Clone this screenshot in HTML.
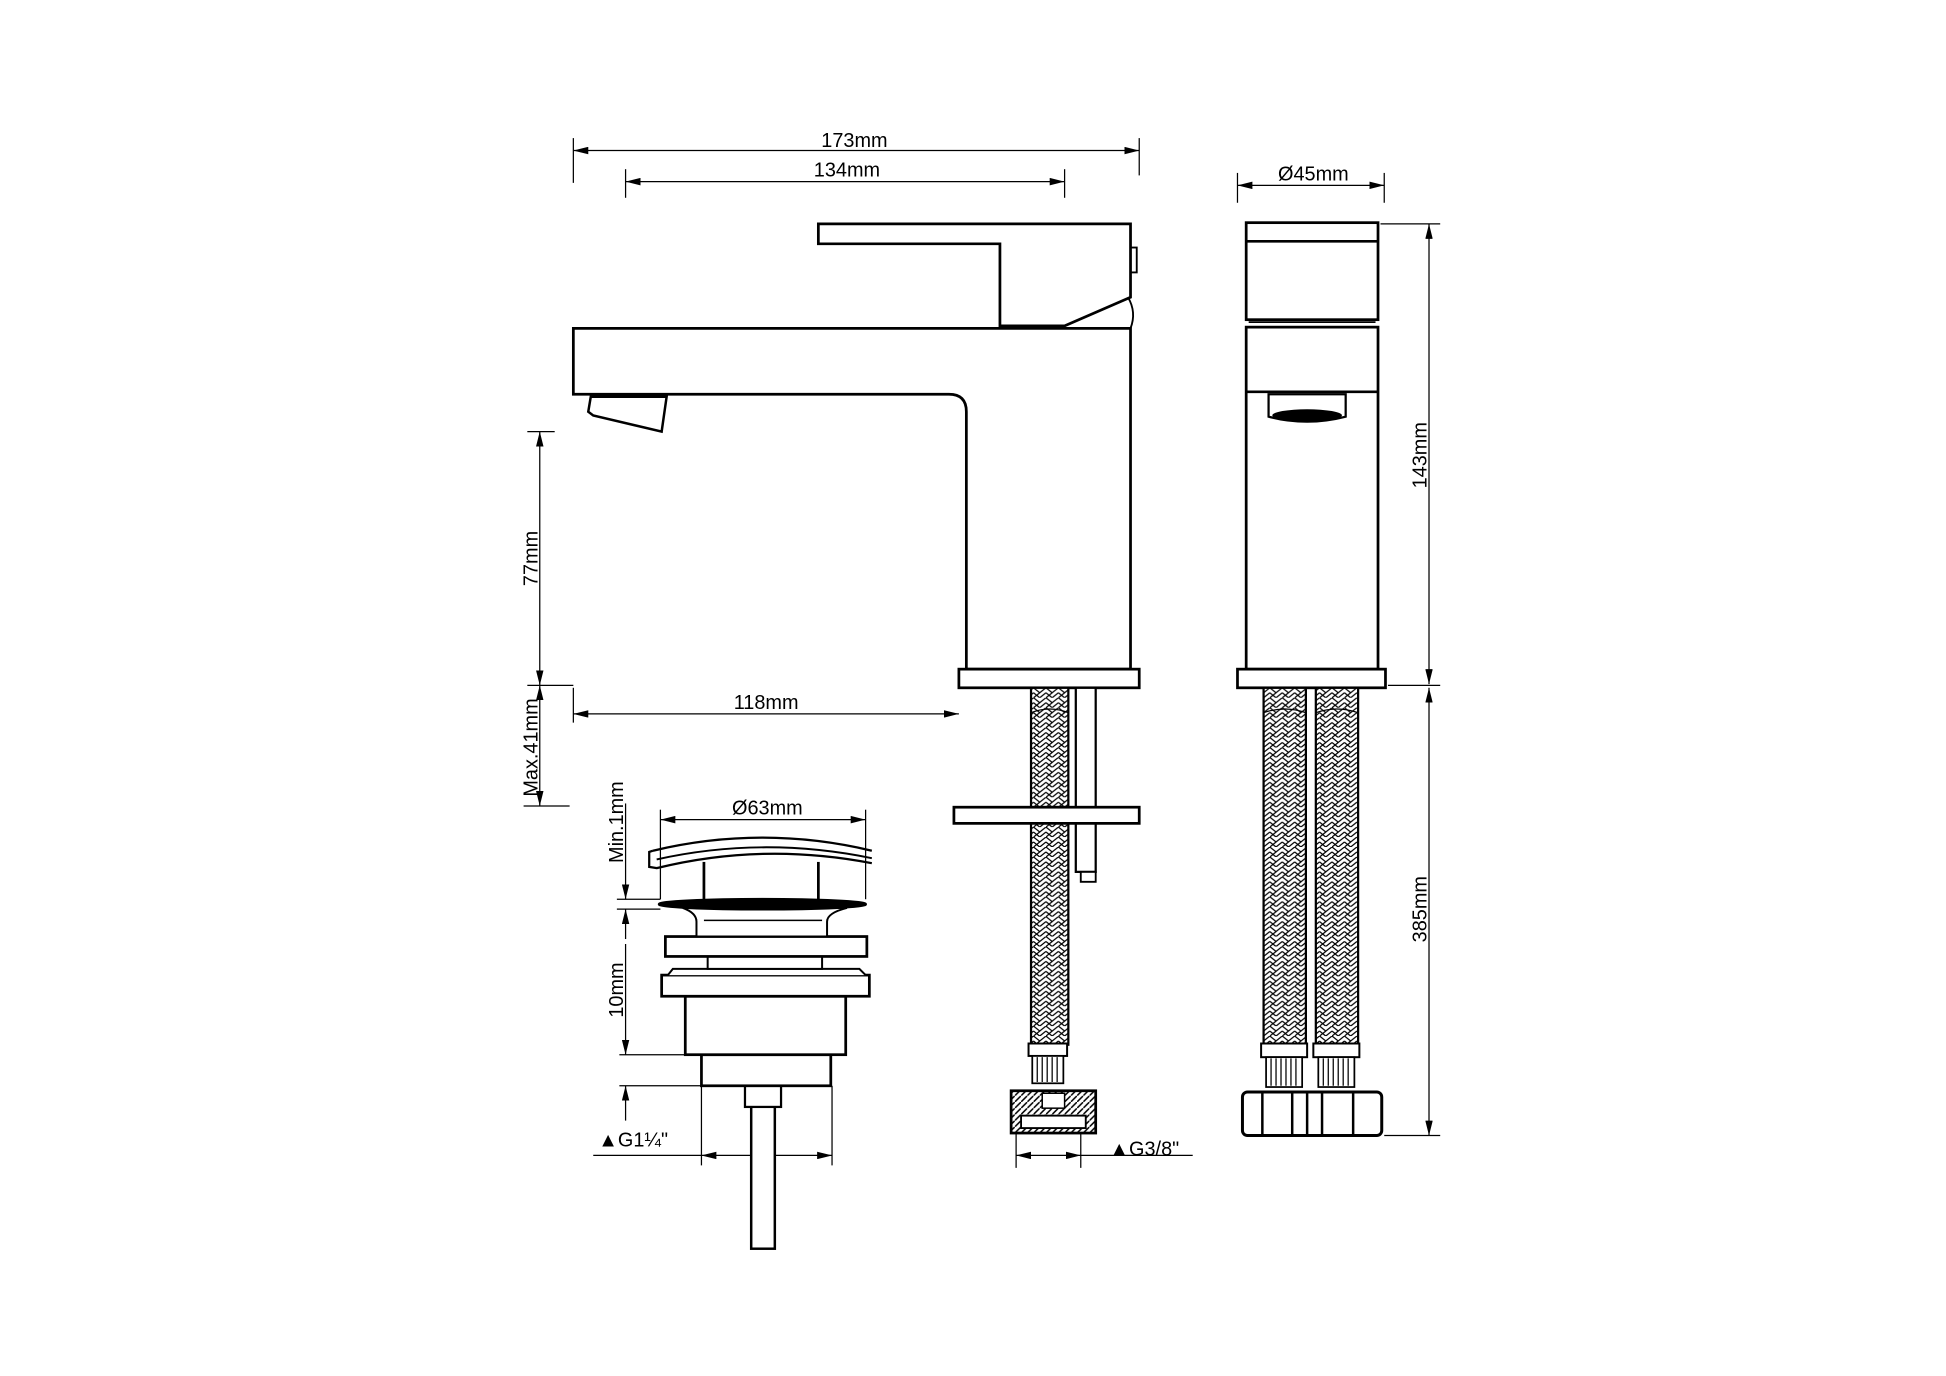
<!DOCTYPE html>
<html><head><meta charset="utf-8"><style>
html,body{margin:0;padding:0;background:#fff;}
svg{display:block}
text{font-family:"Liberation Sans",Arial,sans-serif;font-size:16px;fill:#000}
</style></head><body>
<svg width="1946" height="1376" viewBox="0 0 1560 1103" xmlns="http://www.w3.org/2000/svg">
<defs>
<marker id="a" viewBox="0 0 12 6" refX="12" refY="3" markerWidth="12" markerHeight="6" markerUnits="userSpaceOnUse" orient="auto-start-reverse"><path d="M0,0 L12,3 L0,6 z" fill="#000"/></marker>
<pattern id="br" width="10" height="8" patternUnits="userSpaceOnUse">
<rect width="10" height="8" fill="#fff"/>
<path d="M0,0 L5,4 L10,0 M0,4 L5,8 L10,4 M0,8 L5,4" stroke="#000" stroke-width="1" fill="none"/>
</pattern>
<pattern id="hx" width="5" height="5" patternUnits="userSpaceOnUse"><rect width="5" height="5" fill="#fff"/><path d="M0,5 L5,0" stroke="#000" stroke-width="1.2"/></pattern>
</defs>
<g transform="translate(1,1) scale(0.997)">
<g fill="none" stroke="#000" stroke-width="1">
<line x1="460" y1="110" x2="460" y2="146"/><line x1="915" y1="110" x2="915" y2="140"/>
<line x1="460" y1="120" x2="915" y2="120" marker-start="url(#a)" marker-end="url(#a)"/>
<line x1="502" y1="135" x2="502" y2="158"/><line x1="855" y1="135" x2="855" y2="158"/>
<line x1="502" y1="145" x2="855" y2="145" marker-start="url(#a)" marker-end="url(#a)"/>
<line x1="423" y1="346" x2="445" y2="346"/>
<line x1="433" y1="346" x2="433" y2="550" marker-start="url(#a)" marker-end="url(#a)"/>
<line x1="423" y1="550" x2="460" y2="550"/>
<line x1="433" y1="550" x2="433" y2="647" marker-start="url(#a)" marker-end="url(#a)"/>
<line x1="420" y1="647" x2="457" y2="647"/>
<line x1="460" y1="552" x2="460" y2="580"/>
<line x1="460" y1="573" x2="770" y2="573" marker-start="url(#a)" marker-end="url(#a)"/>
<line x1="994" y1="138" x2="994" y2="162"/><line x1="1112" y1="138" x2="1112" y2="162"/>
<line x1="994" y1="148" x2="1112" y2="148" marker-start="url(#a)" marker-end="url(#a)"/>
<line x1="1109" y1="179" x2="1157" y2="179"/><line x1="1115" y1="550" x2="1157" y2="550"/><line x1="1112" y1="912" x2="1157" y2="912"/>
<line x1="1148" y1="179" x2="1148" y2="549" marker-start="url(#a)" marker-end="url(#a)"/>
<line x1="1148" y1="552" x2="1148" y2="912" marker-start="url(#a)" marker-end="url(#a)"/>
<line x1="530" y1="650" x2="530" y2="722"/><line x1="695" y1="650" x2="695" y2="722"/>
<line x1="530" y1="658" x2="695" y2="658" marker-start="url(#a)" marker-end="url(#a)"/>
<line x1="502" y1="645" x2="502" y2="722" marker-end="url(#a)"/>
<line x1="495" y1="722" x2="530" y2="722"/><line x1="495" y1="730" x2="530" y2="730"/>
<line x1="502" y1="730" x2="502" y2="754" marker-start="url(#a)"/>
<line x1="502" y1="758" x2="502" y2="847" marker-end="url(#a)"/>
<line x1="497" y1="847" x2="552" y2="847"/><line x1="497" y1="872" x2="563" y2="872"/>
<line x1="502" y1="872" x2="502" y2="900" marker-start="url(#a)"/>
<line x1="563" y1="872" x2="563" y2="936"/><line x1="668" y1="872" x2="668" y2="936"/>
<line x1="476" y1="928" x2="563" y2="928"/>
<line x1="563" y1="928" x2="668" y2="928" marker-start="url(#a)" marker-end="url(#a)"/>
<line x1="816" y1="910" x2="816" y2="938"/><line x1="868" y1="910" x2="868" y2="938"/>
<line x1="816" y1="928" x2="868" y2="928" marker-start="url(#a)" marker-end="url(#a)"/>
<line x1="868" y1="928" x2="958" y2="928"/>
</g>
<g fill="#fff" stroke="#000" stroke-width="2.2" stroke-linejoin="miter">
<path d="M906,238 Q913,250 908,263" fill="none" stroke-width="1.5"/>
<rect x="908" y="198" width="5" height="20" stroke-width="1.5"/>
<path d="M657,179 L908,179 L908,238 L855,261 L803,261 L803,195 L657,195 Z"/>
<path d="M460,263 L908,263 L908,537 L776,537 L776,330 Q776,316 762,316 L460,316 Z"/>
<path d="M474,318 L472,330 L476,333 L531,346 L535,318 Z" stroke-width="2"/>
<rect x="770" y="537" width="145" height="15"/>
<rect x="828" y="552" width="30" height="287" fill="url(#br)" stroke-width="1.8"/>
<path d="M828,572 Q843,566 858,572" fill="none" stroke-width="1"/>
<rect x="864" y="552" width="16" height="148" stroke-width="1.8"/>
<rect x="868" y="700" width="12" height="8" stroke-width="1.5"/>
<rect x="766" y="648" width="149" height="13"/>
<rect x="826" y="838" width="31" height="10" stroke-width="1.6"/>
<rect x="829" y="848" width="25" height="22" stroke-width="1.4"/>
<path d="M833,849V869M837,849V869M841,849V869M845,849V869M849,849V869" stroke-width="1"/>
<rect x="812" y="876" width="68" height="34" fill="url(#hx)"/>
<rect x="820" y="896" width="52" height="10" fill="#fff" stroke-width="1.5"/>
<rect x="837" y="878" width="18" height="12" fill="#fff" stroke-width="1.2"/>
<rect x="1001" y="178" width="106" height="78"/>
<line x1="1001" y1="193" x2="1107" y2="193"/>
<rect x="1001" y="262" width="106" height="275"/>
<line x1="1003" y1="258" x2="1105" y2="258" stroke-width="1.4"/>
<line x1="1001" y1="314" x2="1107" y2="314"/>
<path d="M1019,316 L1081,316 L1081,334 Q1050,342 1019,334 Z" stroke-width="1.8"/>
<ellipse cx="1050" cy="333" rx="28" ry="5" fill="#000" stroke="none"/>
<rect x="994" y="537" width="119" height="15"/>
<rect x="1015" y="552" width="34" height="287" fill="url(#br)" stroke-width="1.8"/>
<rect x="1057" y="552" width="34" height="287" fill="url(#br)" stroke-width="1.8"/>
<path d="M1015,572 Q1032,566 1049,572 M1057,572 Q1074,566 1091,572" fill="none" stroke-width="1"/>
<rect x="1013" y="838" width="37" height="11" stroke-width="1.6"/>
<rect x="1055" y="838" width="37" height="11" stroke-width="1.6"/>
<rect x="1017" y="849" width="29" height="24" stroke-width="1.4"/>
<rect x="1059" y="849" width="29" height="24" stroke-width="1.4"/>
<path d="M1021,850V872M1025,850V872M1029,850V872M1033,850V872M1037,850V872M1041,850V872M1063,850V872M1067,850V872M1071,850V872M1075,850V872M1079,850V872M1083,850V872" stroke-width="1"/>
<rect x="998" y="877" width="112" height="35" rx="4" stroke-width="2.4"/>
<path d="M1014,877V912M1038,877V912M1050,877V912M1062,877V912M1087,877V912" stroke-width="2"/>
<rect x="603" y="888" width="19" height="115" stroke-width="2"/>
<rect x="598" y="872" width="29" height="17" stroke-width="1.8"/>
<rect x="563" y="847" width="104" height="25"/>
<rect x="550" y="800" width="129" height="47"/>
<rect x="531" y="783" width="167" height="17"/>
<path d="M536,783 L540,778 L690,778 L695,783" stroke-width="1.6"/>
<rect x="568" y="766" width="92" height="12" stroke-width="1.6"/>
<rect x="534" y="752" width="162" height="16"/>
<path d="M559,752 L559,740 Q559,733 548,729 L680,729 Q664,733 664,740 L664,752 Z" stroke-width="1.6"/>
<line x1="565" y1="739" x2="660" y2="739" stroke-width="1.2"/>
<ellipse cx="612" cy="726" rx="83" ry="4" fill="#000"/>
<line x1="565" y1="692" x2="565" y2="723"/><line x1="657" y1="692" x2="657" y2="723"/>
<path d="M524,683 Q612,662 700,683" fill="none" stroke-width="1.8"/>
<path d="M524,683 L521,684 L521,696 L527,697 Q612,676 700,693" fill="none" stroke-width="1.8"/>
<path d="M527,690 Q612,671 700,689" fill="none" stroke-width="1.6"/>
</g>
<text x="686" y="117" text-anchor="middle">173mm</text>
<text x="680" y="141" text-anchor="middle">134mm</text>
<text x="1055" y="144" text-anchor="middle">Ø45mm</text>
<text x="615" y="569" text-anchor="middle">118mm</text>
<text x="616" y="654" text-anchor="middle">Ø63mm</text>
<text transform="translate(431,448) rotate(-90)" text-anchor="middle">77mm</text>
<text transform="translate(431,600) rotate(-90)" text-anchor="middle">Max.41mm</text>
<text transform="translate(500,660) rotate(-90)" text-anchor="middle">Min.1mm</text>
<text transform="translate(500,795) rotate(-90)" text-anchor="middle">10mm</text>
<text transform="translate(1146,365) rotate(-90)" text-anchor="middle">143mm</text>
<text transform="translate(1146,730) rotate(-90)" text-anchor="middle">385mm</text>
<text x="480" y="921">▲G1¼"</text>
<text x="891" y="928">▲G3/8"</text>
</g>
</svg>
</body></html>
